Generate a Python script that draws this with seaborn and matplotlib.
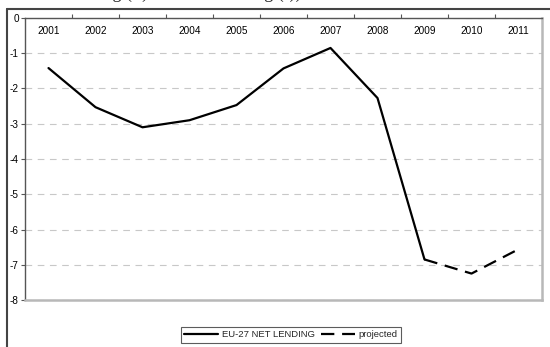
import matplotlib
matplotlib.use("Agg")
import matplotlib.pyplot as plt
from matplotlib.lines import Line2D
from matplotlib.ticker import FixedLocator, NullFormatter
import pandas as pd
import seaborn as sns

# EU-27 net lending (% of GDP); values from 2009 onward are projections
years = [2001, 2002, 2003, 2004, 2005, 2006, 2007, 2008, 2009, 2010, 2011]
net_lending = [-1.42, -2.53, -3.10, -2.90, -2.47, -1.43, -0.85, -2.27, -6.85, -7.25, -6.56]
first_projected_year = 2009
y_ticks = [0, -1, -2, -3, -4, -5, -6, -7, -8]

df = pd.DataFrame({"year": years, "value": net_lending})
actual = df[df["year"] <= first_projected_year]
projected = df[df["year"] >= first_projected_year]

sns.set_theme(style="white")
plt.rcParams["font.family"] = ["Liberation Sans", "DejaVu Sans"]
plt.rcParams["axes.unicode_minus"] = False

fig = plt.figure(figsize=(5.5, 3.47), dpi=100)
ax = fig.add_axes([25 / 550, 1 - 300 / 347, 517 / 550, 282 / 347])

sns.lineplot(data=actual, x="year", y="value", ax=ax, color="black",
             linewidth=1.6, label="EU-27 NET LENDING")
sns.lineplot(data=projected, x="year", y="value", ax=ax, color="black",
             linewidth=1.6, label="projected")
ax.lines[-1].set_dashes((6, 3.5))

ax.set_xlim(years[0] - 0.5, years[-1] + 0.5)
ax.set_ylim(-8, 0)
ax.set_xlabel("")
ax.set_ylabel("")

# category axis along the top: boundary ticks, year labels inside the plot
ax.xaxis.tick_top()
ax.xaxis.set_major_locator(FixedLocator([y + 0.5 for y in years[:-1]]))
ax.xaxis.set_major_formatter(NullFormatter())
ax.xaxis.set_minor_locator(FixedLocator(years))
ax.set_xticklabels([str(y) for y in years], minor=True)
ax.tick_params(axis="x", which="major", top=True, bottom=False, direction="out",
               length=3, width=0.8, color="#555555")
ax.tick_params(axis="x", which="minor", top=True, bottom=False, labeltop=True,
               labelbottom=False, length=0, pad=-13, labelsize=7.2, labelcolor="black")

ax.set_yticks(y_ticks)
ax.set_yticklabels([str(v) for v in y_ticks])
ax.tick_params(axis="y", left=True, direction="out", length=3, width=0.8,
               color="#555555", labelsize=7.2, pad=1.5, labelcolor="black")

ax.yaxis.grid(True, linestyle=(0, (6, 5)), color="#c8c8c8", linewidth=0.8)
ax.xaxis.grid(False)

for side in ("left", "top"):
    ax.spines[side].set_color("#555555")
    ax.spines[side].set_linewidth(1.0)
for side in ("right", "bottom"):
    ax.spines[side].set_color("#b8b8b8")
    ax.spines[side].set_linewidth(1.8)

ax.get_legend().remove()
handles = [Line2D([], [], color="black", linewidth=1.6),
           Line2D([], [], color="black", linewidth=1.6, dashes=(6, 3.5))]
leg = fig.legend(handles, ["EU-27 NET LENDING", "projected"], loc="upper center",
                 bbox_to_anchor=(291 / 550, 1 - 327 / 347), ncol=2, fontsize=6.8,
                 frameon=True, fancybox=False, handlelength=3.6, handletextpad=0.4,
                 columnspacing=0.6, borderpad=0.35, borderaxespad=0)
leg.get_frame().set_edgecolor("#333333")
leg.get_frame().set_linewidth(0.8)

# outer chart-area frame
fig.add_artist(Line2D([7 / 550, 7 / 550], [0, 1 - 9 / 347], transform=fig.transFigure,
                      color="#444444", linewidth=1.5))
fig.add_artist(Line2D([7 / 550, 1.0], [1 - 9 / 347, 1 - 9 / 347], transform=fig.transFigure,
                      color="#444444", linewidth=1.5))

# caption of the surrounding document, running off the top edge
fig.text(37 / 550, 1 + 2 / 347, "Net lending (+) or net borrowing (-))",
         fontsize=13, family=["Liberation Serif", "DejaVu Serif"], ha="left", va="baseline")

fig.savefig("out.png", dpi=100)
